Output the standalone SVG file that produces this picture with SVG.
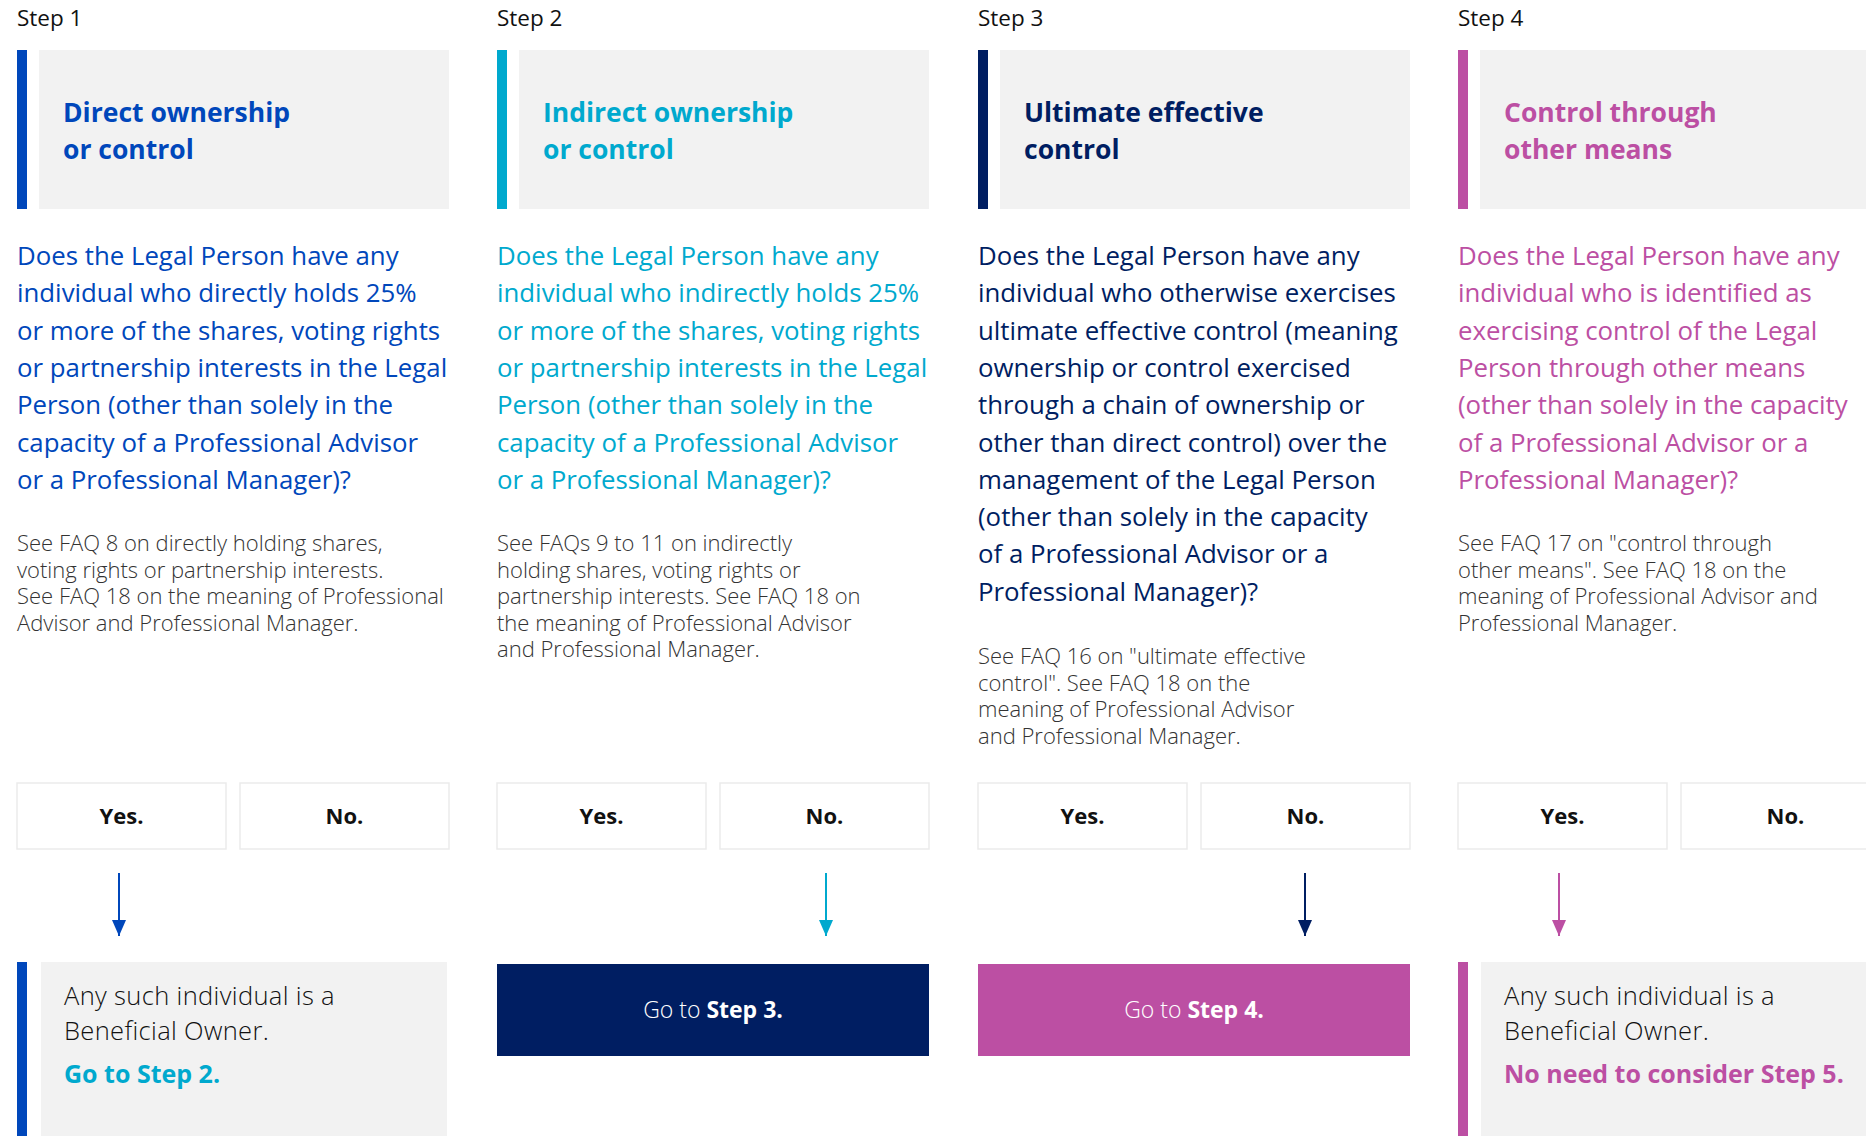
<svg xmlns="http://www.w3.org/2000/svg" width="1866" height="1136" viewBox="0 0 1866 1136">
<style>
.step{font-family:"Open Sans","Noto Sans",sans-serif;font-size:22.5px;fill:#111}
.title{font-family:"Open Sans","Noto Sans",sans-serif;font-size:26.5px;font-weight:700}
.q{font-family:"Open Sans","Noto Sans",sans-serif;font-size:25.8px}
.faq{font-family:"Open Sans","Noto Sans",sans-serif;font-size:22px;font-weight:300;fill:#333}
.yn{font-family:"Open Sans","Noto Sans",sans-serif;font-size:22px;font-weight:700;fill:#111;text-anchor:middle}
.ynbox{fill:#fff;stroke:#ebebeb;stroke-width:1.5}
.gray{fill:#f2f2f2}
.res{font-family:"Open Sans","Noto Sans",sans-serif;font-size:25.5px;font-weight:300;letter-spacing:0.35px;fill:#111}
.resb{font-family:"Open Sans","Noto Sans",sans-serif;font-size:25px;font-weight:700}
.go{font-family:"Open Sans","Noto Sans",sans-serif;font-size:23px;fill:#fff;text-anchor:middle}
.c1{fill:#0047bb}.c2{fill:#00a9ce}.c3{fill:#001e62}.c4{fill:#bc4fa3}
</style>
<defs>
<marker id="a1" markerUnits="userSpaceOnUse" markerWidth="16" markerHeight="14" refX="16" refY="7" orient="auto"><path d="M0,0 L16,7 L0,14 z" fill="#0047bb"/></marker>
<marker id="a2" markerUnits="userSpaceOnUse" markerWidth="16" markerHeight="14" refX="16" refY="7" orient="auto"><path d="M0,0 L16,7 L0,14 z" fill="#00a9ce"/></marker>
<marker id="a3" markerUnits="userSpaceOnUse" markerWidth="16" markerHeight="14" refX="16" refY="7" orient="auto"><path d="M0,0 L16,7 L0,14 z" fill="#001e62"/></marker>
<marker id="a4" markerUnits="userSpaceOnUse" markerWidth="16" markerHeight="14" refX="16" refY="7" orient="auto"><path d="M0,0 L16,7 L0,14 z" fill="#bc4fa3"/></marker>
</defs>

<!-- Step 1 -->
<g id="step1" transform="translate(17,0)">
<text class="step" x="0" y="26">Step 1</text>
<rect class="c1" x="0" y="50" width="10" height="159"/>
<rect class="gray" x="22" y="50" width="410" height="159"/>
<text class="title c1" x="46" y="122">Direct ownership</text>
<text class="title c1" x="46" y="159">or control</text>
<g class="q c1">
<text x="0" y="265">Does the Legal Person have any</text>
<text x="0" y="302.3">individual who directly holds 25%</text>
<text x="0" y="339.6">or more of the shares, voting rights</text>
<text x="0" y="376.9">or partnership interests in the Legal</text>
<text x="0" y="414.2">Person (other than solely in the</text>
<text x="0" y="451.5">capacity of a Professional Advisor</text>
<text x="0" y="488.8">or a Professional Manager)?</text>
</g>
<g class="faq">
<text x="0" y="551">See FAQ 8 on directly holding shares,</text>
<text x="0" y="577.5">voting rights or partnership interests.</text>
<text x="0" y="604">See FAQ 18 on the meaning of Professional</text>
<text x="0" y="630.5">Advisor and Professional Manager.</text>
</g>
</g>
<g id="step1-yes"><rect class="ynbox" x="17" y="783" width="209" height="66"/><text class="yn" x="121.5" y="824">Yes.</text></g>
<g id="step1-no"><rect class="ynbox" x="240" y="783" width="209" height="66"/><text class="yn" x="344.5" y="824">No.</text></g>
<g id="step1-result">
<rect class="c1" x="17" y="962" width="10" height="174"/>
<rect class="gray" x="41" y="962" width="406" height="174"/>
<text class="res" x="64" y="1004.5">Any such individual is a</text>
<text class="res" x="64" y="1039.5">Beneficial Owner.</text>
<text class="resb c2" x="64" y="1083">Go to Step 2.</text>
</g>

<!-- Step 2 -->
<g id="step2" transform="translate(497,0)">
<text class="step" x="0" y="26">Step 2</text>
<rect class="c2" x="0" y="50" width="10" height="159"/>
<rect class="gray" x="22" y="50" width="410" height="159"/>
<text class="title c2" x="46" y="122">Indirect ownership</text>
<text class="title c2" x="46" y="159">or control</text>
<g class="q c2">
<text x="0" y="265">Does the Legal Person have any</text>
<text x="0" y="302.3">individual who indirectly holds 25%</text>
<text x="0" y="339.6">or more of the shares, voting rights</text>
<text x="0" y="376.9">or partnership interests in the Legal</text>
<text x="0" y="414.2">Person (other than solely in the</text>
<text x="0" y="451.5">capacity of a Professional Advisor</text>
<text x="0" y="488.8">or a Professional Manager)?</text>
</g>
<g class="faq">
<text x="0" y="551">See FAQs 9 to 11 on indirectly</text>
<text x="0" y="577.5">holding shares, voting rights or</text>
<text x="0" y="604">partnership interests. See FAQ 18 on</text>
<text x="0" y="630.5">the meaning of Professional Advisor</text>
<text x="0" y="657">and Professional Manager.</text>
</g>
</g>
<g id="step2-yes"><rect class="ynbox" x="497" y="783" width="209" height="66"/><text class="yn" x="601.5" y="824">Yes.</text></g>
<g id="step2-no"><rect class="ynbox" x="720" y="783" width="209" height="66"/><text class="yn" x="824.5" y="824">No.</text></g>
<g id="step2-result">
<rect class="c3" x="497" y="964" width="432" height="92"/>
<text class="go" x="713" y="1018"><tspan font-weight="300">Go to </tspan><tspan font-weight="700">Step 3.</tspan></text>
</g>

<!-- Step 3 -->
<g id="step3" transform="translate(978,0)">
<text class="step" x="0" y="26">Step 3</text>
<rect class="c3" x="0" y="50" width="10" height="159"/>
<rect class="gray" x="22" y="50" width="410" height="159"/>
<text class="title c3" x="46" y="122">Ultimate effective</text>
<text class="title c3" x="46" y="159">control</text>
<g class="q c3">
<text x="0" y="265">Does the Legal Person have any</text>
<text x="0" y="302.3">individual who otherwise exercises</text>
<text x="0" y="339.6">ultimate effective control (meaning</text>
<text x="0" y="376.9">ownership or control exercised</text>
<text x="0" y="414.2">through a chain of ownership or</text>
<text x="0" y="451.5">other than direct control) over the</text>
<text x="0" y="488.8">management of the Legal Person</text>
<text x="0" y="526.1">(other than solely in the capacity</text>
<text x="0" y="563.4">of a Professional Advisor or a</text>
<text x="0" y="600.7">Professional Manager)?</text>
</g>
<g class="faq" xml:space="preserve">
<text x="0" y="664">See FAQ 16 on "ultimate effective</text>
<text x="0" y="690.5">control". See FAQ 18 on the</text>
<text x="0" y="717">meaning of Professional Advisor</text>
<text x="0" y="743.5">and Professional  Manager.</text>
</g>
</g>
<g id="step3-yes"><rect class="ynbox" x="978" y="783" width="209" height="66"/><text class="yn" x="1082.5" y="824">Yes.</text></g>
<g id="step3-no"><rect class="ynbox" x="1201" y="783" width="209" height="66"/><text class="yn" x="1305.5" y="824">No.</text></g>
<g id="step3-result">
<rect class="c4" x="978" y="964" width="432" height="92"/>
<text class="go" x="1194" y="1018"><tspan font-weight="300">Go to </tspan><tspan font-weight="700">Step 4.</tspan></text>
</g>

<!-- Step 4 -->
<g id="step4" transform="translate(1458,0)">
<text class="step" x="0" y="26">Step 4</text>
<rect class="c4" x="0" y="50" width="10" height="159"/>
<rect class="gray" x="22" y="50" width="410" height="159"/>
<text class="title c4" x="46" y="122">Control through</text>
<text class="title c4" x="46" y="159">other means</text>
<g class="q c4">
<text x="0" y="265">Does the Legal Person have any</text>
<text x="0" y="302.3">individual who is identified as</text>
<text x="0" y="339.6">exercising control of the Legal</text>
<text x="0" y="376.9">Person through other means</text>
<text x="0" y="414.2">(other than solely in the capacity</text>
<text x="0" y="451.5">of a Professional Advisor or a</text>
<text x="0" y="488.8">Professional Manager)?</text>
</g>
<g class="faq" xml:space="preserve">
<text x="0" y="551">See FAQ 17 on "control through</text>
<text x="0" y="577.5">other means". See FAQ 18 on the</text>
<text x="0" y="604">meaning of Professional Advisor and</text>
<text x="0" y="630.5">Professional  Manager.</text>
</g>
</g>
<g id="step4-yes"><rect class="ynbox" x="1458" y="783" width="209" height="66"/><text class="yn" x="1562.5" y="824">Yes.</text></g>
<g id="step4-no"><rect class="ynbox" x="1681" y="783" width="209" height="66"/><text class="yn" x="1785.5" y="824">No.</text></g>
<g id="step4-result">
<rect class="c4" x="1458" y="962" width="10" height="174"/>
<rect class="gray" x="1481" y="962" width="406" height="174"/>
<text class="res" x="1504" y="1004.5">Any such individual is a</text>
<text class="res" x="1504" y="1039.5">Beneficial Owner.</text>
<text class="resb c4" x="1504" y="1083">No need to consider Step 5.</text>
</g>

<!-- Connectors -->
<g id="connectors" stroke-width="2" fill="none">
<line x1="119" y1="873" x2="119" y2="936" stroke="#0047bb" marker-end="url(#a1)"/>
<line x1="826" y1="873" x2="826" y2="936" stroke="#00a9ce" marker-end="url(#a2)"/>
<line x1="1305" y1="873" x2="1305" y2="936" stroke="#001e62" marker-end="url(#a3)"/>
<line x1="1559" y1="873" x2="1559" y2="936" stroke="#bc4fa3" marker-end="url(#a4)"/>
</g>
</svg>
